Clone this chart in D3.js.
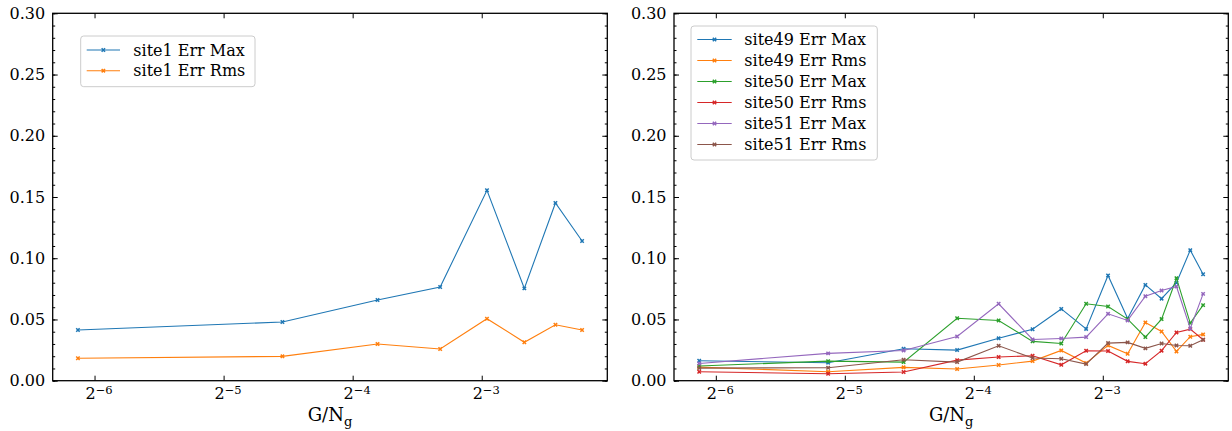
<!DOCTYPE html>
<meta charset="utf-8">
<body style="margin:0;background:#fff">
<script src="https://d3js.org/d3.v7.min.js"></script>
<script>

// G/Ng values (x) for each panel
const xLeft  = [0.01429, 0.04286, 0.07143, 0.10000, 0.12857, 0.15714, 0.18571, 0.21429];
const xRight = [0.01429, 0.02857, 0.04286, 0.05714, 0.07143, 0.08571, 0.10000, 0.11429,
                0.12857, 0.14286, 0.15714, 0.17143, 0.18571, 0.20000, 0.21429];

// left panel series
const site1Max = [0.0414, 0.0479, 0.0659, 0.0765, 0.1555, 0.0754, 0.1451, 0.1141];
const site1Rms = [0.0183, 0.0199, 0.0300, 0.0259, 0.0506, 0.0314, 0.0457, 0.0414];

// right panel series
const site49Max = [0.0163, 0.0147, 0.0261, 0.0250, 0.0346, 0.0420, 0.0586, 0.0423, 0.0859, 0.0508, 0.0782, 0.0670, 0.0800, 0.1066, 0.0869];
const site49Rms = [0.0111, 0.0073, 0.0109, 0.0095, 0.0128, 0.0160, 0.0247, 0.0144, 0.0288, 0.0220, 0.0476, 0.0402, 0.0239, 0.0359, 0.0378];
const site50Max = [0.0120, 0.0160, 0.0152, 0.0510, 0.0492, 0.0321, 0.0304, 0.0628, 0.0606, 0.0503, 0.0356, 0.0503, 0.0837, 0.0470, 0.0617];
const site50Rms = [0.0073, 0.0057, 0.0071, 0.0168, 0.0193, 0.0204, 0.0130, 0.0245, 0.0242, 0.0158, 0.0139, 0.0245, 0.0394, 0.0421, 0.0334];
const site51Max = [0.0141, 0.0223, 0.0247, 0.0361, 0.0628, 0.0337, 0.0345, 0.0356, 0.0546, 0.0492, 0.0690, 0.0736, 0.0769, 0.0427, 0.0709];
const site51Rms = [0.0103, 0.0106, 0.0171, 0.0152, 0.0285, 0.0185, 0.0179, 0.0136, 0.0307, 0.0313, 0.0264, 0.0304, 0.0288, 0.0285, 0.0334];

const yTicks = [0, 0.05, 0.10, 0.15, 0.20, 0.25, 0.30];
const xTickExps = [-6, -5, -4, -3];

const colors = ["#1f77b4", "#ff7f0e", "#2ca02c", "#d62728", "#9467bd", "#8c564b"];
const font = "DejaVu Serif";

const panels = [
  {
    box: {left: 52.7, right: 607.3, top: 13.3, bottom: 380.7},
    xs: xLeft,
    series: [
      {name: "site1 Err Max", values: site1Max},
      {name: "site1 Err Rms", values: site1Rms}
    ],
    legend: {x: 80.7, y: 36, w: 174.3, h: 50.7, row0: 50, step: 20.7, lx0: 86.7, lx1: 120, tx: 133.3}
  },
  {
    box: {left: 674, right: 1228.3, top: 13.3, bottom: 380.7},
    xs: xRight,
    series: [
      {name: "site49 Err Max", values: site49Max},
      {name: "site49 Err Rms", values: site49Rms},
      {name: "site50 Err Max", values: site50Max},
      {name: "site50 Err Rms", values: site50Rms},
      {name: "site51 Err Max", values: site51Max},
      {name: "site51 Err Rms", values: site51Rms}
    ],
    legend: {x: 691, y: 26, w: 186.3, h: 134, row0: 39.5, step: 21.0, lx0: 697.3, lx1: 731.7, tx: 744.3}
  }
];

const svg = d3.select("body").append("svg")
  .attr("width", 1232)
  .attr("height", 431)
  .style("font-family", font);

function xMark(g, x, y, color) {
  const s = 1.7;
  g.append("path")
    .attr("d", `M${x - s},${y - s}L${x + s},${y + s}M${x - s},${y + s}L${x + s},${y - s}`)
    .attr("stroke", color)
    .attr("stroke-width", 1.5)
    .attr("fill", "none");
}

panels.forEach(p => {
  const b = p.box;
  // log2 domain with 5% margins like matplotlib
  const lo = Math.log2(d3.min(p.xs)), hi = Math.log2(d3.max(p.xs));
  const pad = (hi - lo) * 0.05;
  const x = d3.scaleLog().base(2)
    .domain([Math.pow(2, lo - pad), Math.pow(2, hi + pad)])
    .range([b.left, b.right]);
  const y = d3.scaleLinear().domain([0, 0.30]).range([b.bottom, b.top]);

  const xTicks = xTickExps.map(e => Math.pow(2, e));
  const minorY = d3.range(0, 0.3001, 0.01);

  // lines
  const line = d3.line().x(d => x(d[0])).y(d => y(d[1]));
  p.series.forEach((s, i) => {
    const pts = p.xs.map((xv, j) => [xv, s.values[j]]);
    svg.append("path")
      .datum(pts)
      .attr("d", line)
      .attr("fill", "none")
      .attr("stroke", colors[i])
      .attr("stroke-width", 1.1);
    const mg = svg.append("g");
    pts.forEach(d => xMark(mg, x(d[0]), y(d[1]), colors[i]));
  });

  // axes (ticks inside)
  const bottom = svg.append("g")
    .attr("transform", `translate(0,${b.bottom})`)
    .call(d3.axisBottom(x).tickValues(xTicks).tickSizeInner(-5).tickSizeOuter(0).tickPadding(7).tickFormat(""));
  bottom.selectAll(".tick text").each(function(d) {
    const t = d3.select(this)
      .attr("font-size", 16)
      .attr("font-family", font)
      .attr("fill", "#000")
      .attr("text-anchor", "middle")
      .attr("dx", "0.25em");
    t.append("tspan").text("2");
    t.append("tspan")
      .attr("font-size", 11.5)
      .attr("dy", "-0.45em")
      .text("\u2212" + (-Math.round(Math.log2(d))));
  });

  svg.append("g")
    .attr("transform", `translate(0,${b.top})`)
    .call(d3.axisTop(x).tickValues(xTicks).tickSizeInner(-5).tickSizeOuter(0).tickFormat(""));

  svg.append("g")
    .attr("transform", `translate(${b.left},0)`)
    .call(d3.axisLeft(y).tickValues(minorY).tickSizeInner(-2.5).tickSizeOuter(0).tickFormat(""));
  svg.append("g")
    .attr("transform", `translate(${b.right},0)`)
    .call(d3.axisRight(y).tickValues(minorY).tickSizeInner(-2.5).tickSizeOuter(0).tickFormat(""));
  svg.append("g")
    .attr("transform", `translate(${b.right},0)`)
    .call(d3.axisRight(y).tickValues(yTicks).tickSizeInner(-5).tickSizeOuter(0).tickFormat(""));

  const left = svg.append("g")
    .attr("transform", `translate(${b.left},0)`)
    .call(d3.axisLeft(y).tickValues(yTicks).tickSizeInner(-5).tickSizeOuter(0).tickPadding(7.5).tickFormat(d3.format(".2f")));
  left.selectAll(".tick text")
    .attr("font-size", 16)
    .attr("font-family", font)
    .attr("fill", "#000");

  svg.selectAll(".domain").remove();
  svg.selectAll(".tick line").attr("stroke", "#000").attr("stroke-width", 1);

  // frame
  svg.append("rect")
    .attr("x", b.left).attr("y", b.top)
    .attr("width", b.right - b.left).attr("height", b.bottom - b.top)
    .attr("fill", "none").attr("stroke", "#000").attr("stroke-width", 1.3);

  // axis label
  const lab = svg.append("text")
    .attr("x", (b.left + b.right) / 2)
    .attr("y", 421)
    .attr("text-anchor", "middle")
    .attr("font-size", 18);
  lab.append("tspan").text("G/N");
  lab.append("tspan").attr("font-size", 13).attr("dy", "0.35em").text("g");

  // legend
  const L = p.legend;
  svg.append("rect")
    .attr("x", L.x).attr("y", L.y).attr("width", L.w).attr("height", L.h)
    .attr("rx", 3)
    .attr("fill", "#fff").attr("fill-opacity", 0.8)
    .attr("stroke", "#cccccc").attr("stroke-width", 1);
  p.series.forEach((s, i) => {
    const ry = L.row0 + i * L.step;
    svg.append("line")
      .attr("x1", L.lx0).attr("x2", L.lx1).attr("y1", ry).attr("y2", ry)
      .attr("stroke", colors[i]).attr("stroke-width", 1.1);
    xMark(svg, (L.lx0 + L.lx1) / 2, ry, colors[i]);
    svg.append("text")
      .attr("x", L.tx).attr("y", ry)
      .attr("dy", "0.36em")
      .attr("font-size", 16)
      .text(s.name);
  });
});

</script>
</body>
